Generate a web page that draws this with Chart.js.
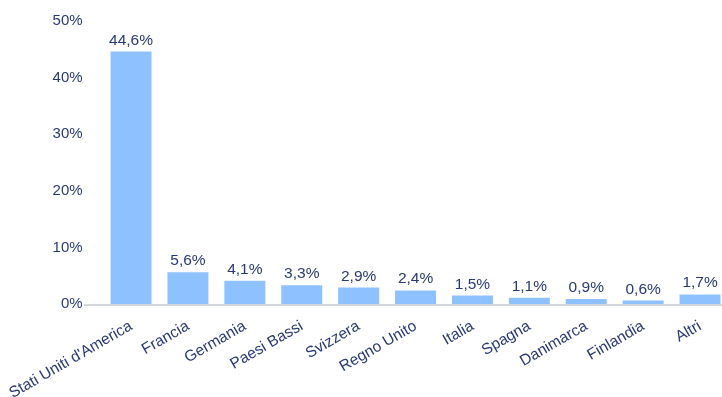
<!DOCTYPE html>
<html>
<head>
<meta charset="utf-8">
<script src="https://cdn.jsdelivr.net/npm/chart.js@4/dist/chart.umd.min.js"></script>
<style>
  html, body { margin: 0; padding: 0; background: #ffffff; overflow: hidden; }
  #wrap { width: 730px; height: 397px; }
</style>
</head>
<body>
<div id="wrap"><canvas id="c" width="730" height="397"></canvas></div>
<script>
const categories = ["Stati Uniti d'America", "Francia", "Germania", "Paesi Bassi", "Svizzera",
  "Regno Unito", "Italia", "Spagna", "Danimarca", "Finlandia", "Altri"];
const shares = [44.6, 5.6, 4.1, 3.3, 2.9, 2.4, 1.5, 1.1, 0.9, 0.6, 1.7];
const yTicks = [0, 10, 20, 30, 40, 50];

const TEXT = '#283a74';
const FAMILY = "'Liberation Sans', Arial, sans-serif";
const FONT = { family: FAMILY, size: 15 };
const XFONT = { family: FAMILY, size: 15.5 };

const fmt = v => v.toFixed(1).replace('.', ',') + '%';

// value labels above each bar
const valueLabels = {
  id: 'valueLabels',
  afterDatasetsDraw(chart) {
    const ctx = chart.ctx;
    const meta = chart.getDatasetMeta(0);
    ctx.save();
    ctx.fillStyle = TEXT;
    ctx.font = `15.5px ${FAMILY}`;
    ctx.textAlign = 'center';
    ctx.textBaseline = 'alphabetic';
    meta.data.forEach((bar, i) => {
      ctx.fillText(fmt(shares[i]), bar.x, bar.y - 7);
    });
    ctx.restore();
  }
};

// light grey baseline along zero
const baseline = {
  id: 'baseline',
  beforeDatasetsDraw(chart) {
    const ctx = chart.ctx;
    const y = chart.scales.y.getPixelForValue(0);
    ctx.save();
    ctx.strokeStyle = '#d3d6da';
    ctx.lineWidth = 2;
    ctx.beginPath();
    ctx.moveTo(84, y + 1);
    ctx.lineTo(chart.width, y + 1);
    ctx.stroke();
    ctx.restore();
  }
};

new Chart(document.getElementById('c'), {
  type: 'bar',
  data: {
    labels: categories,
    datasets: [{
      data: shares,
      backgroundColor: '#8ec1ff',
      borderWidth: 0,
      barPercentage: 0.72,
      categoryPercentage: 1.0
    }]
  },
  options: {
    responsive: false,
    animation: false,
    layout: { padding: { top: 21, right: 1.5, left: 0, bottom: 0 } },
    plugins: { legend: { display: false }, tooltip: { enabled: false } },
    scales: {
      x: {
        grid: { display: false, drawTicks: false },
        border: { display: false },
        ticks: {
          color: TEXT, font: XFONT, minRotation: 30, maxRotation: 30,
          autoSkip: false, padding: 13
        },
        afterFit(scale) {
          scale.height = 93;
          scale.paddingLeft = 0;
          scale.paddingRight = 0;
        }
      },
      y: {
        min: 0, max: 50,
        grid: { display: false, drawTicks: false },
        border: { display: false },
        afterBuildTicks(scale) {
          scale.ticks = yTicks.map(v => ({ value: v }));
        },
        ticks: {
          color: TEXT, font: FONT, padding: 20,
          callback: v => v + '%'
        },
        afterFit(scale) {
          scale.width = 102.6;
          scale.paddingTop = 0;
          scale.paddingBottom = 0;
        }
      }
    }
  },
  plugins: [baseline, valueLabels]
});
</script>
</body>
</html>
